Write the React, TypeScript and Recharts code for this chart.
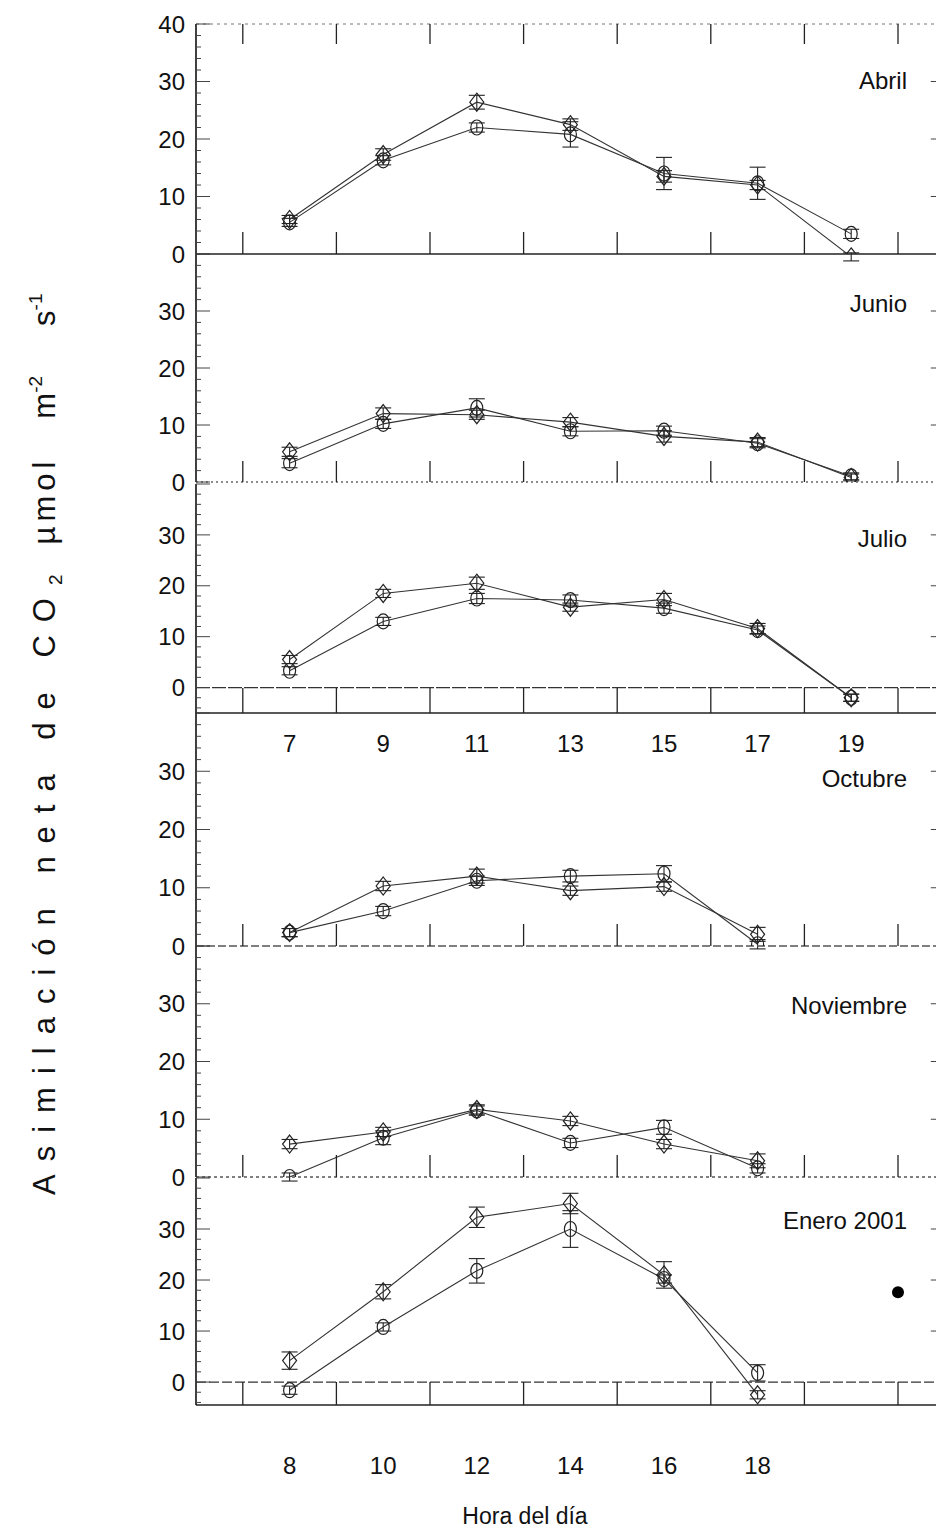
import React from "react";
import {
  LineChart,
  Line,
  XAxis,
  YAxis,
  ErrorBar,
  ReferenceLine,
  ReferenceDot
} from "recharts";

const FONT = "'Liberation Sans', Arial, Helvetica, sans-serif";
const X_UNIT = 46.8; // px per hour
const Y_AXIS_W = 196;
const CHART_W = 960;
const PLOT_RIGHT = Y_AXIS_W + 16 * X_UNIT;

// Abril
const abrilHours = [7, 9, 11, 13, 15, 17, 19];
const abrilCircle = [5.5, 16.3, 22, 20.8, 14, 12.3, 3.5];
const abrilDiamond = [6, 17.3, 26.4, 22.5, 13.5, 12, -0.5];
const abrilCircleErr = [0.7, 0.8, 0.8, 2.2, 2.8, 2.8, 0.8];
const abrilDiamondErr = [0.7, 1, 1.2, 1, 1, 0.8, 0.7];

// Junio
const junioHours = [7, 9, 11, 13, 15, 17, 19];
const junioCircle = [3.3, 10.2, 13, 8.9, 9, 6.8, 1];
const junioDiamond = [5.3, 12, 11.8, 10.5, 8, 7, 0.8];
const junioCircleErr = [0.8, 0.8, 1.6, 0.8, 0.8, 0.8, 0.6];
const junioDiamondErr = [0.8, 1, 0.8, 0.8, 1, 0.8, 0.6];

// Julio
const julioHours = [7, 9, 11, 13, 15, 17, 19];
const julioCircle = [3.3, 13, 17.5, 17.2, 15.6, 11.3, -2];
const julioDiamond = [5.5, 18.5, 20.5, 15.8, 17.3, 11.6, -2];
const julioCircleErr = [0.8, 0.8, 1, 1, 1, 0.8, 0.7];
const julioDiamondErr = [0.8, 0.8, 1.2, 0.8, 1.2, 1, 0.7];

// Octubre
const octubreHours = [7, 9, 11, 13, 15, 17];
const octubreCircle = [2.3, 6, 11.2, 12, 12.4, 0.3];
const octubreDiamond = [2.3, 10.3, 12, 9.5, 10.2, 2];
const octubreCircleErr = [0.7, 0.8, 0.8, 1, 1.4, 0.8];
const octubreDiamondErr = [0.7, 0.8, 1.2, 0.8, 0.8, 1.2];

// Noviembre
const noviembreHours = [7, 9, 11, 13, 15, 17];
const noviembreCircle = [0, 6.8, 11.5, 5.9, 8.6, 1.5];
const noviembreDiamond = [5.7, 7.8, 11.7, 9.7, 5.7, 2.8];
const noviembreCircleErr = [0.7, 1.2, 0.8, 0.8, 1.2, 0.8];
const noviembreDiamondErr = [0.8, 0.8, 0.8, 0.8, 0.8, 1.2];

// Enero 2001
const eneroHours = [8, 10, 12, 14, 16, 18];
const eneroCircle = [-1.6, 10.8, 21.8, 30, 20.2, 1.8];
const eneroDiamond = [4.2, 17.7, 32.3, 35, 21, -2.5];
const eneroCircleErr = [0.8, 0.8, 2.4, 3.6, 0.8, 1.6];
const eneroDiamondErr = [1.7, 1.4, 2, 2, 2.6, 0.8];
const eneroLegendDot = { hour: 21, value: 17.6 };

const evenHours = [6, 8, 10, 12, 14, 16, 18, 20];
const oddHours = [7, 9, 11, 13, 15, 17, 19, 21];
const julioTickLabels = [7, 9, 11, 13, 15, 17, 19];
const eneroTickLabels = [8, 10, 12, 14, 16, 18];

function rows(h: number[], c: number[], d: number[], ce: number[], de: number[]) {
  return h.map((hour, i) => ({
    hour,
    circle: c[i],
    diamond: d[i],
    circleErr: ce[i],
    diamondErr: de[i]
  }));
}

const circleDot = (p: any) => {
  if (p.cx == null || p.cy == null) return <g key={`c-${p.index}`} />;
  return (
    <ellipse key={`c-${p.index}`} cx={p.cx} cy={p.cy} rx={6} ry={7.5}
      fill="none" stroke="#222" strokeWidth={1.2} />
  );
};

const diamondDot = (p: any) => {
  if (p.cx == null || p.cy == null) return <g key={`d-${p.index}`} />;
  const { cx, cy } = p;
  return (
    <path key={`d-${p.index}`}
      d={`M${cx},${cy - 9} L${cx + 7},${cy} L${cx},${cy + 9} L${cx - 7},${cy} Z`}
      fill="none" stroke="#222" strokeWidth={1.2} />
  );
};

// vertical tick marks (inside the frame) and hour labels below
const xTick = (marks: number[], labels: number[], len: number, dir: number, labelDy: number) =>
  (props: any) => {
    const { x, y, payload } = props;
    const v = payload.value;
    return (
      <g key={`xt-${v}`}>
        {marks.includes(v) && (
          <line x1={x} x2={x} y1={y} y2={y + dir * len} stroke="#222" strokeWidth={1.3} />
        )}
        {labels.includes(v) && (
          <text x={x} y={y + labelDy} textAnchor="middle" fontSize={24}
            fontFamily={FONT} fill="#111">{v}</text>
        )}
      </g>
    );
  };

const yTick = (labels: number[]) => (props: any) => {
  const { x, y, payload } = props;
  const v = payload.value;
  const major = v % 10 === 0;
  return (
    <g key={`yt-${v}`}>
      <line x1={x} x2={x + (major ? 14 : 5)} y1={y} y2={y} stroke="#444" strokeWidth={1} />
      {major && v > 0 && v < 40 && (
        <line x1={PLOT_RIGHT} x2={PLOT_RIGHT - 14} y1={y} y2={y} stroke="#444" />
      )}
      {labels.includes(v) && (
        <text x={x - 11} y={y} dy="0.36em" textAnchor="end" fontSize={24}
          fontFamily={FONT} fill="#111">{v}</text>
      )}
    </g>
  );
};

type PanelProps = {
  data: any[];
  top: number;
  bottom: number;
  yMin: number;
  xMin: number;
  marks: number[];
  labels: number[];
  tickLen: number;
  labelDy?: number;
  extra: number;
  topTicks?: boolean;
  zeroLine?: string;
  baseDash?: string;
  baseColor?: string;
  yLabels: number[];
  legendDot?: { hour: number; value: number };
};

function Panel(props: PanelProps) {
  const MT = 16;
  const plotH = props.bottom - props.top;
  const h = MT + plotH + props.extra + 4;
  const yTicks: number[] = [];
  for (let v = Math.ceil(props.yMin / 2) * 2; v <= 40; v += 2) yTicks.push(v);
  const hours: number[] = [];
  for (let v = props.xMin; v <= props.xMin + 16; v++) hours.push(v);
  const domainX = [props.xMin, props.xMin + 16];

  return (
    <div style={{ position: "absolute", left: 0, top: props.top - MT }}>
      <LineChart width={CHART_W} height={h} data={props.data}
        margin={{ top: MT, right: CHART_W - PLOT_RIGHT, bottom: 4, left: 0 }}>
        <XAxis dataKey="hour" type="number" domain={domainX} ticks={hours} interval={0}
          allowDataOverflow height={props.extra} tickSize={0} tickMargin={0} tickLine={false}
          axisLine={{ stroke: props.baseColor || "#222", strokeWidth: 1.3, strokeDasharray: props.baseDash }}
          tick={xTick(props.marks, props.labels, props.tickLen, -1, props.labelDy || 0)} />
        {props.topTicks && (
          <XAxis xAxisId="top" orientation="top" mirror dataKey="hour" type="number"
            domain={domainX} ticks={hours} interval={0} allowDataOverflow tickSize={0}
            tickMargin={0} tickLine={false}
            axisLine={{ stroke: "#777", strokeDasharray: "3 4" }}
            tick={xTick(props.marks, [], 20, 1, 0)} />
        )}
        <YAxis type="number" domain={[props.yMin, 40]} ticks={yTicks} interval={0}
          allowDataOverflow width={Y_AXIS_W} tickSize={0} tickMargin={0} tickLine={false}
          axisLine={{ stroke: "#111", strokeWidth: 1.6 }} tick={yTick(props.yLabels)} />
        {props.zeroLine && (
          <ReferenceLine y={0} stroke="#333" strokeWidth={1.2} strokeDasharray={props.zeroLine} />
        )}
        {props.legendDot && (
          <ReferenceDot x={props.legendDot.hour} y={props.legendDot.value} r={6}
            fill="#000" stroke="none" />
        )}
        <Line type="linear" dataKey="circle" stroke="#333" strokeWidth={1.1}
          dot={circleDot} activeDot={false} isAnimationActive={false}>
          <ErrorBar dataKey="circleErr" direction="y" width={8} stroke="#222" strokeWidth={1.1} />
        </Line>
        <Line type="linear" dataKey="diamond" stroke="#333" strokeWidth={1.1}
          dot={diamondDot} activeDot={false} isAnimationActive={false}>
          <ErrorBar dataKey="diamondErr" direction="y" width={8} stroke="#222" strokeWidth={1.1} />
        </Line>
      </LineChart>
    </div>
  );
}

const months = [
  { name: "Abril", y: 89 },
  { name: "Junio", y: 312 },
  { name: "Julio", y: 547 },
  { name: "Octubre", y: 787 },
  { name: "Noviembre", y: 1014 },
  { name: "Enero 2001", y: 1229 }
];

export default function App() {
  const yLab = [0, 10, 20, 30];
  return (
    <div style={{ position: "absolute", left: 0, top: 0, width: 936, height: 1531,
      overflow: "hidden", background: "#fff", fontFamily: FONT }}>
      <Panel data={rows(abrilHours, abrilCircle, abrilDiamond, abrilCircleErr, abrilDiamondErr)}
        top={24} bottom={254} yMin={0} xMin={5} marks={evenHours} labels={[]} tickLen={22}
        extra={16} topTicks yLabels={[0, 10, 20, 30, 40]} />
      <Panel data={rows(junioHours, junioCircle, junioDiamond, junioCircleErr, junioDiamondErr)}
        top={254} bottom={482} yMin={0} xMin={5} marks={evenHours} labels={[]} tickLen={21}
        extra={16} baseDash="2 3" baseColor="#666" yLabels={yLab} />
      <Panel data={rows(julioHours, julioCircle, julioDiamond, julioCircleErr, julioDiamondErr)}
        top={484} bottom={713} yMin={-5} xMin={5} marks={evenHours} labels={julioTickLabels}
        tickLen={25} labelDy={39} extra={50} zeroLine="14 2" yLabels={yLab} />
      <Panel data={rows(octubreHours, octubreCircle, octubreDiamond, octubreCircleErr, octubreDiamondErr)}
        top={713} bottom={946} yMin={0} xMin={5} marks={evenHours} labels={[]} tickLen={22}
        extra={16} baseDash="8 3" baseColor="#555" yLabels={yLab} />
      <Panel data={rows(noviembreHours, noviembreCircle, noviembreDiamond, noviembreCircleErr, noviembreDiamondErr)}
        top={946} bottom={1177} yMin={0} xMin={5} marks={evenHours} labels={[]} tickLen={22}
        extra={16} baseDash="3 3" baseColor="#555" yLabels={yLab} />
      <Panel data={rows(eneroHours, eneroCircle, eneroDiamond, eneroCircleErr, eneroDiamondErr)}
        top={1178} bottom={1405} yMin={-4.5} xMin={6} marks={oddHours} labels={eneroTickLabels}
        tickLen={23} labelDy={69} extra={80} zeroLine="10 3" yLabels={yLab}
        legendDot={eneroLegendDot} />

      <svg width={936} height={1531} style={{ position: "absolute", left: 0, top: 0, pointerEvents: "none" }}>
        {months.map((m) => (
          <text key={m.name} x={907} y={m.y} textAnchor="end" fontSize={24}
            fontFamily={FONT} fill="#111">{m.name}</text>
        ))}
        <text x={525} y={1524} textAnchor="middle" fontSize={23} fontFamily={FONT} fill="#111">
          Hora del día
        </text>
        <text transform="translate(55,0) rotate(-90)" fontSize={31} fontFamily={FONT} fill="#111">
          <tspan x={-1195} letterSpacing={13}>Asimilación neta de CO</tspan>
          <tspan fontSize={19} dy={7}>2</tspan>
          <tspan dy={-7} dx={30} letterSpacing={5}>µmol</tspan>
          <tspan dx={38}>m</tspan>
          <tspan fontSize={19} dy={-13}>-2</tspan>
          <tspan dy={13} dx={50}>s</tspan>
          <tspan fontSize={19} dy={-13}>-1</tspan>
        </text>
      </svg>
    </div>
  );
}
